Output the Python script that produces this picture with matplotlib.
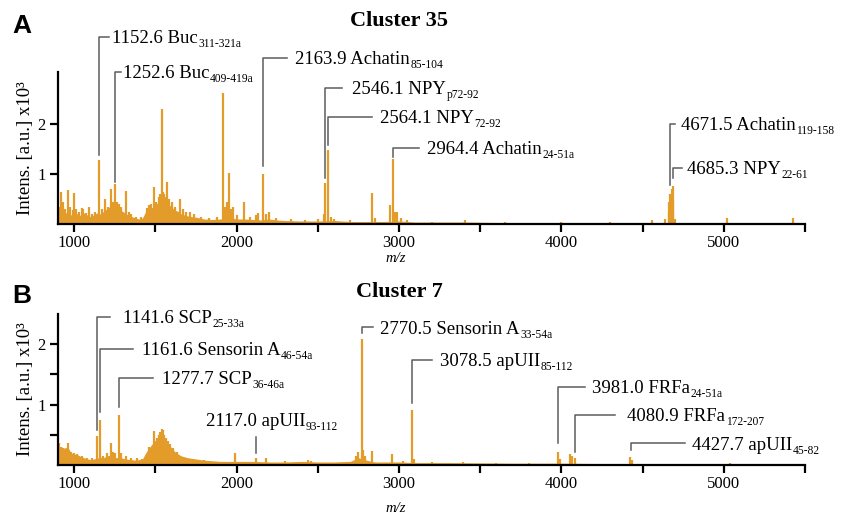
import matplotlib
matplotlib.use("Agg")
import matplotlib.pyplot as plt

plt.rcParams["font.family"] = ["Liberation Serif", "DejaVu Serif"]

# ---- Cluster 35: peak sticks (m/z, intensity x10^3) ----
peaks_a_mz = [905, 918, 929, 945, 962, 975, 990, 1000, 1012, 1030, 1045, 1054,
              1070, 1091, 1110, 1130, 1152.6, 1170, 1189, 1205, 1224, 1236,
              1252.6, 1264, 1275, 1290, 1319, 1335, 1350, 1380, 1410, 1446,
              1460, 1475, 1491, 1505, 1520, 1530, 1538, 1545, 1550, 1560, 1573,
              1585, 1600, 1620, 1651, 1670, 1690, 1713, 1740, 1780, 1830, 1880,
              1918, 1930, 1938, 1955, 1965, 1978, 2000, 2047, 2080, 2120, 2132,
              2163.9, 2180, 2200, 2240, 2334, 2420, 2500, 2535, 2546.1, 2564.1,
              2580, 2600, 2700, 2835, 2850, 2944, 2964.4, 2975, 2990, 3010,
              3050, 3200, 3406, 3650, 4000, 4300, 4558, 4640, 4660, 4665,
              4671.5, 4678, 4685.3, 4690, 4700, 5020, 5426]
peaks_a_int = [0.35, 0.64, 0.44, 0.30, 0.68, 0.35, 0.28, 0.62, 0.30, 0.25, 0.32,
               0.30, 0.22, 0.34, 0.20, 0.25, 1.28, 0.30, 0.50, 0.35, 0.70, 0.45,
               0.80, 0.45, 0.40, 0.35, 0.66, 0.25, 0.20, 0.15, 0.15, 0.32, 0.38,
               0.40, 0.74, 0.45, 0.55, 0.60, 2.31, 0.65, 0.60, 0.55, 0.84, 0.50,
               0.45, 0.35, 0.50, 0.30, 0.25, 0.25, 0.20, 0.15, 0.12, 0.14, 2.63,
               0.35, 0.45, 1.03, 0.30, 0.35, 0.18, 0.45, 0.15, 0.18, 0.22, 1.00,
               0.20, 0.25, 0.12, 0.10, 0.08, 0.10, 0.20, 0.82, 1.48, 0.15, 0.10,
               0.08, 0.62, 0.12, 0.38, 1.31, 0.25, 0.25, 0.12, 0.08, 0.05, 0.09,
               0.04, 0.04, 0.04, 0.08, 0.10, 0.25, 0.45, 0.60, 0.70, 0.76, 0.50,
               0.10, 0.12, 0.12]
base_a_mz = [900, 920, 940, 960, 980, 1000, 1020, 1040, 1060, 1080, 1100, 1120,
             1140, 1160, 1180, 1200, 1220, 1240, 1260, 1280, 1300, 1320, 1340,
             1360, 1380, 1400, 1420, 1440, 1460, 1480, 1500, 1520, 1540, 1560,
             1580, 1600, 1620, 1640, 1660, 1680, 1700, 1720, 1760, 1800, 1850,
             1900, 1950, 2000, 2050, 2100, 2150, 2200, 2250, 2300, 2400, 2500,
             2600, 2700, 2800, 2900, 3000, 3100, 3200, 3400, 3600, 3800, 4000,
             4200, 4400, 4600, 4800, 5000, 5200, 5500]
base_a_int = [0.22, 0.28, 0.20, 0.25, 0.18, 0.24, 0.20, 0.17, 0.22, 0.18, 0.15,
              0.18, 0.22, 0.20, 0.25, 0.30, 0.35, 0.38, 0.33, 0.28, 0.25, 0.20,
              0.17, 0.14, 0.12, 0.10, 0.12, 0.25, 0.30, 0.33, 0.38, 0.45, 0.48,
              0.45, 0.40, 0.33, 0.28, 0.25, 0.20, 0.18, 0.16, 0.15, 0.13, 0.10,
              0.09, 0.10, 0.13, 0.10, 0.10, 0.09, 0.08, 0.10, 0.08, 0.07, 0.06,
              0.06, 0.07, 0.05, 0.05, 0.05, 0.06, 0.04, 0.04, 0.04, 0.03, 0.03,
              0.03, 0.03, 0.025, 0.03, 0.025, 0.025, 0.02, 0.02]

# ---- Cluster 7 ----
peaks_b_mz = [905, 920, 935, 963, 980, 1000, 1020, 1050, 1080, 1110, 1141.6,
              1161.6, 1180, 1200, 1226, 1237, 1250, 1277.7, 1290, 1317, 1350,
              1388, 1420, 1460, 1491, 1500, 1510, 1520, 1530, 1538, 1545, 1555,
              1565, 1575, 1590, 1610, 1630, 1651, 1680, 1720, 1800, 1990, 2117,
              2181, 2300, 2440, 2460, 2735, 2750, 2770.5, 2780, 2790, 2835,
              2955, 3025, 3078.5, 3090, 3200, 3394, 3600, 3800, 3981, 3990,
              4053, 4065, 4080.9, 4422, 4433, 5040]
peaks_b_int = [0.36, 0.30, 0.25, 0.36, 0.22, 0.20, 0.18, 0.15, 0.12, 0.12, 0.48,
               0.74, 0.15, 0.20, 0.36, 0.22, 0.20, 0.83, 0.20, 0.15, 0.12, 0.12,
               0.10, 0.30, 0.57, 0.40, 0.45, 0.50, 0.55, 0.60, 0.58, 0.50, 0.45,
               0.40, 0.35, 0.28, 0.22, 0.15, 0.12, 0.10, 0.08, 0.20, 0.12, 0.12,
               0.06, 0.08, 0.07, 0.15, 0.22, 2.08, 0.25, 0.15, 0.24, 0.18, 0.06,
               0.91, 0.10, 0.05, 0.05, 0.04, 0.04, 0.21, 0.10, 0.19, 0.15, 0.12,
               0.14, 0.08, 0.03]
base_b_mz = [900, 920, 940, 960, 980, 1000, 1020, 1040, 1060, 1080, 1100, 1120,
             1140, 1160, 1180, 1200, 1220, 1240, 1260, 1280, 1300, 1340, 1380,
             1420, 1440, 1460, 1480, 1500, 1520, 1540, 1560, 1580, 1600, 1620,
             1640, 1660, 1700, 1750, 1800, 1850, 1900, 2000, 2100, 2200, 2300,
             2400, 2500, 2600, 2700, 2750, 2800, 2850, 2900, 3000, 3100, 3300,
             3500, 3700, 4000, 4200, 4500, 4800, 5000, 5500]
base_b_int = [0.32, 0.30, 0.28, 0.30, 0.20, 0.18, 0.17, 0.14, 0.12, 0.10, 0.09,
              0.10, 0.11, 0.13, 0.12, 0.15, 0.16, 0.14, 0.12, 0.13, 0.11, 0.09,
              0.08, 0.10, 0.20, 0.28, 0.35, 0.40, 0.45, 0.48, 0.42, 0.35, 0.28,
              0.22, 0.18, 0.15, 0.12, 0.10, 0.08, 0.07, 0.06, 0.06, 0.06, 0.05,
              0.05, 0.06, 0.05, 0.05, 0.06, 0.12, 0.08, 0.05, 0.05, 0.05, 0.04,
              0.04, 0.035, 0.03, 0.03, 0.025, 0.02, 0.02, 0.02, 0.015]

# ---- annotations: m/z, label, subscript ----
labels_a = [(1152.6, "1152.6 Buc", "311-321a"),
            (1252.6, "1252.6 Buc", "409-419a"),
            (2163.9, "2163.9 Achatin", "85-104"),
            (2546.1, "2546.1 NPY", "p72-92"),
            (2564.1, "2564.1 NPY", "72-92"),
            (2964.4, "2964.4 Achatin", "24-51a"),
            (4671.5, "4671.5 Achatin", "119-158"),
            (4685.3, "4685.3 NPY", "22-61")]
labels_b = [(1141.6, "1141.6 SCP", "25-33a"),
            (1161.6, "1161.6 Sensorin A", "46-54a"),
            (1277.7, "1277.7 SCP", "36-46a"),
            (2117.0, "2117.0 apUII", "93-112"),
            (2770.5, "2770.5 Sensorin A", "33-54a"),
            (3078.5, "3078.5 apUII", "85-112"),
            (3981.0, "3981.0 FRFa", "24-51a"),
            (4080.9, "4080.9 FRFa", "172-207"),
            (4427.7, "4427.7 apUII", "45-82")]

# leader layout: (line bottom y, line level y, line end x, text x)
layout_a = [(1.38, 3.74, 1215, 1232), (0.84, 3.04, 1290, 1300),
            (1.16, 3.32, 2310, 2359), (0.92, 2.72, 2650, 2710),
            (1.58, 2.14, 2835, 2883), (1.34, 1.52, 3120, 3172),
            (0.78, 2.00, 4700, 4736), (0.92, 1.12, 4740, 4773)]
layout_b = [(0.58, 2.45, 1220, 1300), (0.88, 1.92, 1362, 1417),
            (0.96, 1.44, 1485, 1540), (0.20, 0.46, None, 0.75),
            (2.19, 2.28, 2840, 2883), (1.03, 1.74, 3203, 3252),
            (0.36, 1.29, 4145, 4188), (0.22, 0.83, 4330, 4404),
            (0.25, 0.36, 4761, 4804)]

ORANGE = "#E39B2A"
LEAD = "#5c5c5c"
W, H = 843, 514


def add_label(ax, mz, main, sub, lay):
    y0, y1, x_end, x_text = lay
    if x_end is None:
        # vertical tick with centred label above
        ax.plot([mz, mz], [y0, y1], color=LEAD, lw=1.1, clip_on=False)
        t = ax.annotate(main, xy=(mz, x_text), xytext=(0, -4.5),
                        textcoords="offset points", ha="center", va="baseline",
                        fontsize=13.5, annotation_clip=False)
    else:
        ax.plot([mz, mz, x_end], [y0, y1, y1], color=LEAD, lw=1.1,
                clip_on=False)
        t = ax.annotate(main, xy=(x_text, y1), xytext=(0, -4.5),
                        textcoords="offset points", ha="left", va="baseline",
                        fontsize=13.5, annotation_clip=False)
    ax.annotate(sub, xy=(1, 0), xycoords=t, xytext=(0.5, 0),
                textcoords="offset points", ha="left", va="baseline",
                fontsize=8.3, annotation_clip=False)


def draw_panel(ax, pmz, pint, bmz, bint, ymax, yticks, yminor):
    ax.fill_between(bmz, 0, bint, color=ORANGE, lw=0)
    ax.vlines(pmz, 0, pint, color=ORANGE, lw=1.6)
    ax.set_xlim(900, 5500)
    ax.set_ylim(0, ymax)
    for s in ["top", "right"]:
        ax.spines[s].set_visible(False)
    for s in ["left", "bottom"]:
        ax.spines[s].set_linewidth(1.6)
    xt = list(range(1000, 5501, 500))
    ax.set_xticks(xt)
    ax.set_xticklabels([str(v) if v % 1000 == 0 else "" for v in xt],
                       fontsize=12)
    ax.set_yticks(yticks)
    ax.set_yticklabels([str(v) for v in yticks], fontsize=12)
    ax.set_yticks(yminor, minor=True)
    ax.tick_params(axis="x", direction="out", length=6, width=1.6, pad=2)
    ax.tick_params(axis="y", direction="out", length=6, width=1.6, pad=3)
    ax.tick_params(which="minor", direction="out", length=6, width=1.6)
    ax.set_ylabel("Intens. [a.u.] x10³", fontsize=13.5, labelpad=2)


fig = plt.figure(figsize=(W / 100, H / 100), dpi=100)
ax_a = fig.add_axes([58 / W, 1 - 224 / H, 747 / W, 152 / H])
ax_b = fig.add_axes([58 / W, 1 - 465 / H, 747 / W, 151 / H])

draw_panel(ax_a, peaks_a_mz, peaks_a_int, base_a_mz, base_a_int, 3.04,
           [1, 2], [])
draw_panel(ax_b, peaks_b_mz, peaks_b_int, base_b_mz, base_b_int, 2.5,
           [1, 2], [0.5, 1.5])

for (mz, main, sub), lay in zip(labels_a, layout_a):
    add_label(ax_a, mz, main, sub, lay)
for (mz, main, sub), lay in zip(labels_b, layout_b):
    add_label(ax_b, mz, main, sub, lay)

fig.text(399 / W, 1 - 21 / H, "Cluster 35", ha="center", va="center",
         fontsize=16, fontweight="bold")
fig.text(399 / W, 1 - 292 / H, "Cluster 7", ha="center", va="center",
         fontsize=16, fontweight="bold")
fig.text(396 / W, 1 - 259 / H, "m/z", ha="center", va="center",
         fontsize=10.5, style="italic")
fig.text(396 / W, 1 - 508 / H, "m/z", ha="center", va="center",
         fontsize=10.5, style="italic")
fig.text(22 / W, 1 - 26 / H, "A", ha="center", va="center", fontsize=19,
         fontweight="bold", family="Liberation Sans")
fig.text(22 / W, 1 - 296 / H, "B", ha="center", va="center", fontsize=19,
         fontweight="bold", family="Liberation Sans")

fig.savefig("out.png", dpi=100)
